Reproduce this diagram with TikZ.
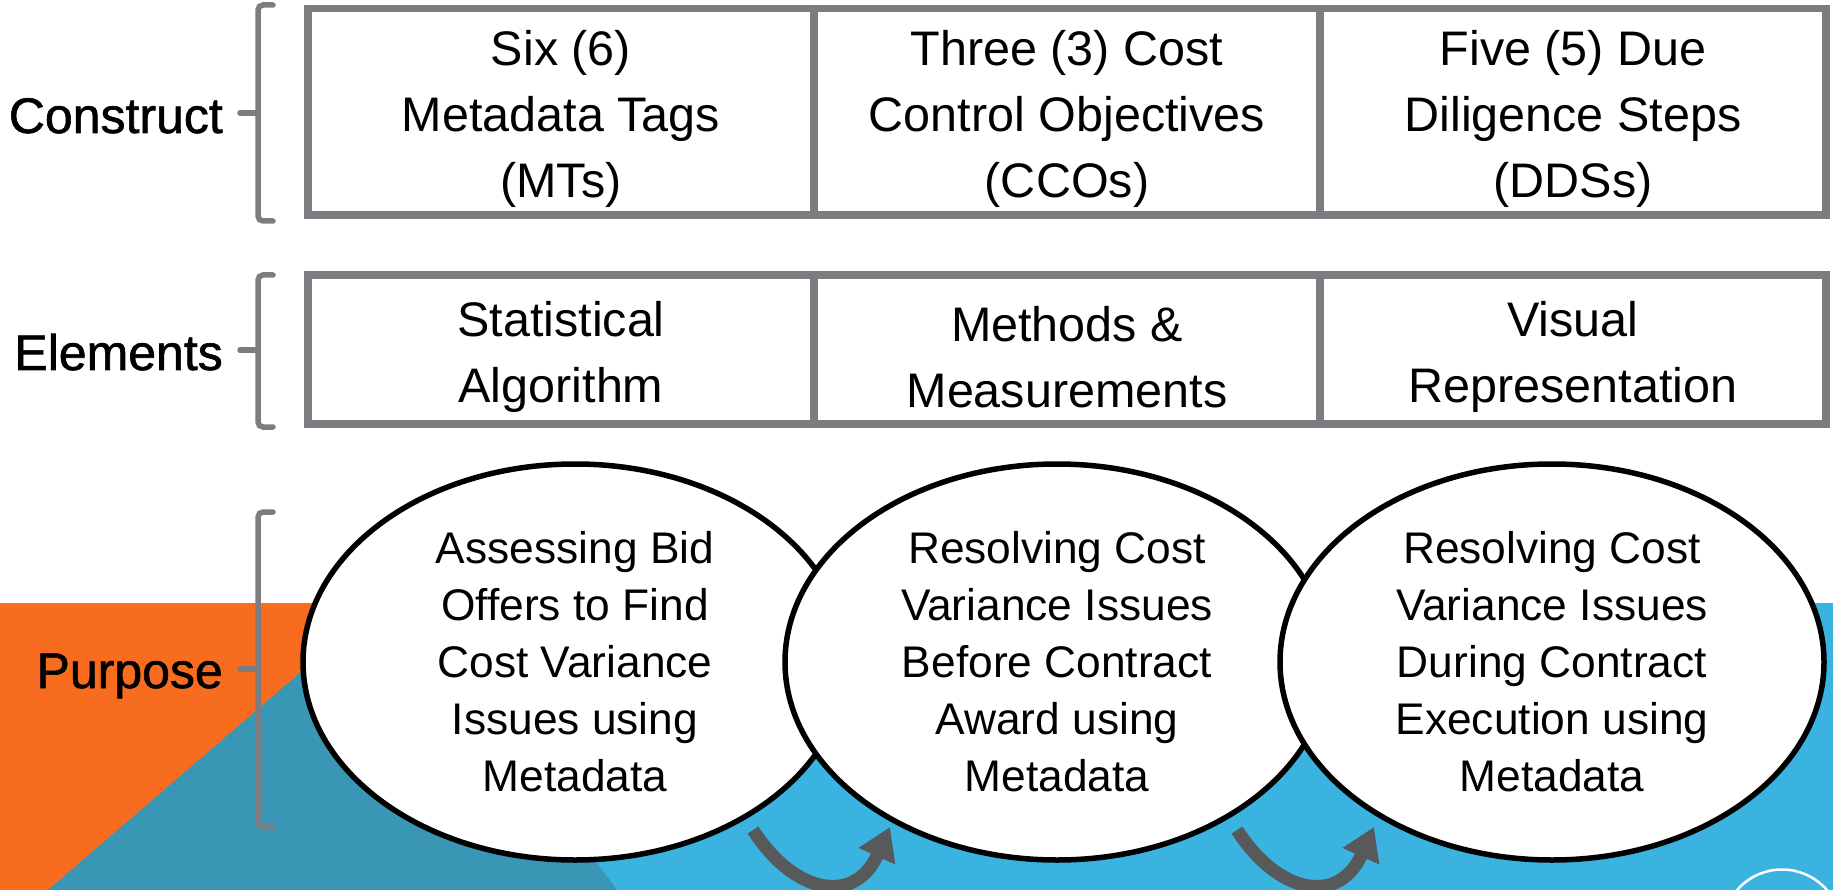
\documentclass[tikz,border=0pt]{standalone}
\usepackage{fontspec}
\setmainfont{Liberation Sans}
\newfontfamily\labelfont[FakeBold=1.2]{Liberation Sans}
\usetikzlibrary{shapes.geometric,arrows.meta}

\definecolor{bandorange}{RGB}{247,108,30}
\definecolor{bandteal}{RGB}{57,150,180}
\definecolor{bandblue}{RGB}{58,179,224}
\definecolor{brackgray}{RGB}{124,125,129}
\definecolor{turngray}{RGB}{88,89,91}

% taller first line, pushes cell text down
\newcommand{\cs}{\rule{0pt}{49.5pt}}

\tikzset{
  cell/.style={draw=brackgray, line width=7.5pt, inner sep=0pt, outer sep=0pt,
               minimum width=506pt, align=center,
               font=\fontsize{48.5}{66}\selectfont},
  bubble/.style={ellipse, draw=black, line width=5.5pt, fill=white,
                 minimum width=544pt, minimum height=396pt, inner sep=0pt,
                 align=center, font=\fontsize{44.3}{57}\selectfont},
  rowlabel/.style={anchor=base east, inner sep=0pt,
                   font=\labelfont\fontsize{50}{60}\selectfont},
  brack/.style={brackgray, line width=5.5pt, line cap=round, rounded corners=5pt},
  turn/.style={turngray, line width=13pt, -{Triangle[length=32pt,width=38pt]}}
}

\begin{document}
\begin{tikzpicture}[x=1pt,y=-1pt]

   \useasboundingbox (0,0) rectangle (1833,890);
   \clip (0,0) rectangle (1833,890);

   % Background band
   \fill[white] (0,0) rectangle (1833,890);
   \fill[bandblue] (0,603) rectangle (1833,890);
   \fill[bandorange] (0,603) rectangle (400,890);
   \fill[bandteal] (48,890) -- (395,591) -- (617,890) -- cycle;
   \draw[white, line width=2.5pt] (1782,929) circle[radius=59.5];

   % Construct row
   \node[cell, minimum height=206.5pt] (mt)  at (561,111.75)  {\cs Six (6)\\Metadata Tags\\(MTs)};
   \node[cell, minimum height=206.5pt] (cco) at (1067,111.75) {\cs Three (3) Cost\\Control Objectives\\(CCOs)};
   \node[cell, minimum height=206.5pt] (dds) at (1573,111.75) {\cs Five (5) Due\\Diligence Steps\\(DDSs)};

   % Elements row
   \node[cell, minimum height=149pt] (stat) at (561,349.5)  {\cs Statistical\\Algorithm};
   \node[cell, minimum height=149pt] (meth) at (1067,349.5) {\cs Methods \&\\Measurements};
   \node[cell, minimum height=149pt] (vis)  at (1573,349.5) {\cs Visual\\Representation};

   % Purpose bubbles
   \node[bubble] (p1) at (575,662)
        {Assessing Bid\\Offers to Find\\Cost Variance\\Issues using\\Metadata};
   \node[bubble] (p2) at (1057,662)
        {Resolving Cost\\Variance Issues\\Before Contract\\Award using\\Metadata};
   \node[bubble] (p3) at (1552,662)
        {Resolving Cost\\Variance Issues\\During Contract\\Execution using\\Metadata};

   % Turn arrows
   \coordinate (t1) at (753,830);  \coordinate (h1) at (890,827);
   \coordinate (t2) at (1237,830); \coordinate (h2) at (1374,827);
   \foreach \t/\h in {t1/h1, t2/h2}
       \draw[turn] (\t) .. controls +(42,65) and +(-35,78) .. (\h);

   % Row labels
   \node[rowlabel] (construct) at (223,133) {Construct};
   \node[rowlabel] (elements)  at (223,370) {Elements};
   \node[rowlabel] (purpose)   at (223,688) {Purpose};

   % Brackets
   \foreach \ya/\yb/\ym in {5/221/113, 275/427/350, 512/827/669} {
       \draw[brack] (273,\ya) -- (258,\ya) -- (258,\yb) -- (273,\yb);
       \draw[brack] (240,\ym) -- (258,\ym);
   }

\end{tikzpicture}
\end{document}
